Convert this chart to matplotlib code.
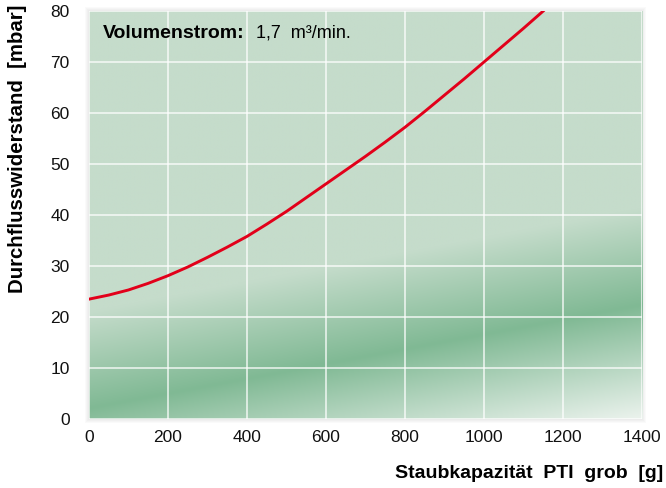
import numpy as np
import matplotlib
matplotlib.use('Agg')
import matplotlib.pyplot as plt
from matplotlib.patches import Rectangle

plt.rcParams['font.family'] = ['Liberation Sans', 'DejaVu Sans']

# Data
staub_g = [0, 50, 100, 150, 200, 250, 300, 350, 400, 450, 500, 550, 600, 650, 700,
           750, 800, 850, 900, 950, 1000, 1050, 1100, 1150]
druck_mbar = [23.5, 24.3, 25.3, 26.6, 28.1, 29.8, 31.7, 33.7, 35.8, 38.2, 40.7, 43.4,
              46.1, 48.8, 51.5, 54.3, 57.2, 60.3, 63.5, 66.7, 70.0, 73.3, 76.6, 80.0]
x_ticks = [0, 200, 400, 600, 800, 1000, 1200, 1400]
y_ticks = [0, 10, 20, 30, 40, 50, 60, 70, 80]

fig = plt.figure(figsize=(6.66, 4.88), dpi=100)
ax = fig.add_axes([0.1336, 0.1414, 0.8304, 0.8361])

# soft shadow around the plot area
pos = ax.get_position()
for i in range(1, 5):
    dx = i / 666
    dy = i / 488
    fig.patches.append(Rectangle((pos.x0 - dx, pos.y0 - dy), pos.width + 2 * dx, pos.height + 2 * dy,
                                 transform=fig.transFigure, color='#808080', alpha=0.035,
                                 zorder=-1, lw=0))

# green background with a dark diagonal band
xs = np.linspace(0, 1400, 700)
ys = np.linspace(0, 80, 400)
X, Y = np.meshgrid(xs, ys)
center = 2 + 0.0145 * X
d = Y - center
light = np.array([197, 220, 203]) / 255
dark = np.array([128, 185, 148]) / 255
pale = np.array([234, 242, 236]) / 255
t_up = np.clip(d / 19, 0, 1)[..., None]
t_dn = np.clip(-d / 22, 0, 1)[..., None]
img = np.where(d[..., None] >= 0, dark + (light - dark) * t_up, dark + (pale - dark) * t_dn)
ax.imshow(img, extent=[0, 1400, 0, 80], origin='lower', aspect='auto', zorder=0,
          interpolation='bilinear')

ax.set_xlim(0, 1400)
ax.set_ylim(0, 80)
ax.set_xticks(x_ticks)
ax.set_yticks(y_ticks)
ax.grid(True, color='white', lw=1.1, alpha=0.85, zorder=1)
ax.set_axisbelow(False)
for s in ax.spines.values():
    s.set_visible(False)
ax.tick_params(length=0, labelsize=12.5, colors='#111111')
ax.tick_params(axis='y', pad=14)
ax.tick_params(axis='x', pad=8)

ax.plot(staub_g, druck_mbar, color='#e2001a', lw=2.1, zorder=3, clip_on=True)

ax.text(0.025, 0.946, 'Volumenstrom:', transform=ax.transAxes, fontsize=14,
        fontweight='bold', va='center', ha='left', zorder=4)
ax.text(0.302, 0.946, '1,7  m³/min.', transform=ax.transAxes, fontsize=13,
        va='center', ha='left', zorder=4)

fig.text(0.996, 0.012, 'Staubkapazität  PTI  grob  [g]', ha='right', va='bottom',
         fontsize=14, fontweight='bold')
fig.text(0.012, 0.99, 'Durchflusswiderstand  [mbar]', ha='left', va='top', rotation=90,
         fontsize=14.7, fontweight='bold')

fig.savefig('out.png', dpi=100)
